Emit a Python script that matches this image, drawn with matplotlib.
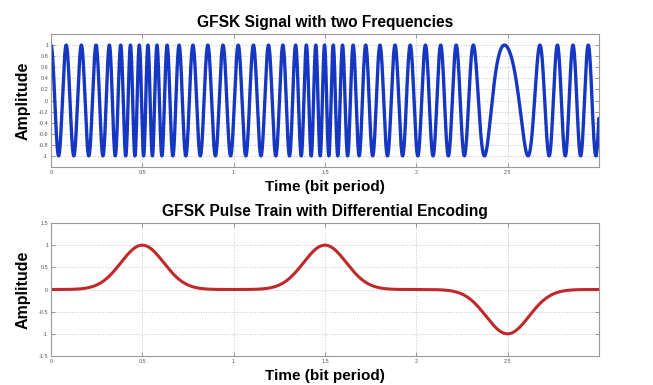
import numpy as np
import matplotlib
matplotlib.use("Agg")
import matplotlib.pyplot as plt
from matplotlib.ticker import FuncFormatter

# ---- data ----
pulse_centers = [0.5, 1.5, 2.5]      # bit period of each pulse
pulse_amps = [1.0, 1.0, -1.0]        # differential-encoded symbol values
pulse_sigma = 0.117                  # Gaussian pulse width (bit periods)
carrier_freq = 12.0                  # cycles per bit period
freq_deviation = 9.2                 # cycles per bit period at full pulse
x_ticks = [0, 0.5, 1, 1.5, 2, 2.5]
top_yticks = [-1, -0.8, -0.6, -0.4, -0.2, 0, 0.2, 0.4, 0.6, 0.8, 1]
bot_yticks = [-1.5, -1, -0.5, 0, 0.5, 1, 1.5]
titles = ["GFSK Signal with two Frequencies",
          "GFSK Pulse Train with Differential Encoding"]
xlabel = "Time (bit period)"
ylabel = "Amplitude"

t = np.linspace(0, 3, 6001)
pulse = np.zeros_like(t)
for c, a in zip(pulse_centers, pulse_amps):
    pulse += a * np.exp(-(t - c) ** 2 / (2 * pulse_sigma ** 2))
inst_f = carrier_freq + freq_deviation * pulse
phase = 2 * np.pi * np.concatenate([[0], np.cumsum((inst_f[1:] + inst_f[:-1]) / 2 * np.diff(t))])
signal = np.cos(phase)

plt.rcParams['font.family'] = ['Liberation Sans', 'DejaVu Sans']

fig = plt.figure(figsize=(6.53, 3.85), dpi=100)
ax1 = fig.add_axes([0.0781, 0.5662, 0.839, 0.3455])
ax2 = fig.add_axes([0.0781, 0.0753, 0.839, 0.3455])

def fmt(v, pos):
    s = ("%.1f" % v).rstrip('0').rstrip('.')
    if s == "-0":
        s = "0"
    return s

for ax, y, col, yt, yl, title in [
        (ax1, signal, '#1537c2', top_yticks, (-1.2, 1.2), titles[0]),
        (ax2, pulse, '#c0282a', bot_yticks, (-1.5, 1.5), titles[1])]:
    ax.plot(t, y, color=col, lw=2.4 if ax is ax1 else 2.2, solid_capstyle='round')
    ax.set_xlim(0, 3)
    ax.set_ylim(*yl)
    ax.set_xticks(x_ticks)
    ax.set_yticks(yt)
    ax.xaxis.set_major_formatter(FuncFormatter(fmt))
    ax.yaxis.set_major_formatter(FuncFormatter(fmt))
    ax.tick_params(direction='in', length=3, width=0.6, color='#888888',
                   labelsize=4, labelcolor='#555555', top=True, right=True, pad=2)
    ax.grid(True, linestyle=':', color='#c4c4c4', lw=0.7)
    for s in ax.spines.values():
        s.set_color('#999999')
        s.set_linewidth(0.8)
    ax.set_title(title, fontsize=11.2, fontweight='bold', pad=5)
    ax.set_xlabel(xlabel, fontsize=11, fontweight='bold', labelpad=4)
    ax.set_ylabel(ylabel, fontsize=11.5, fontweight='bold', labelpad=6)

fig.savefig("out.png", dpi=100, facecolor='white')
